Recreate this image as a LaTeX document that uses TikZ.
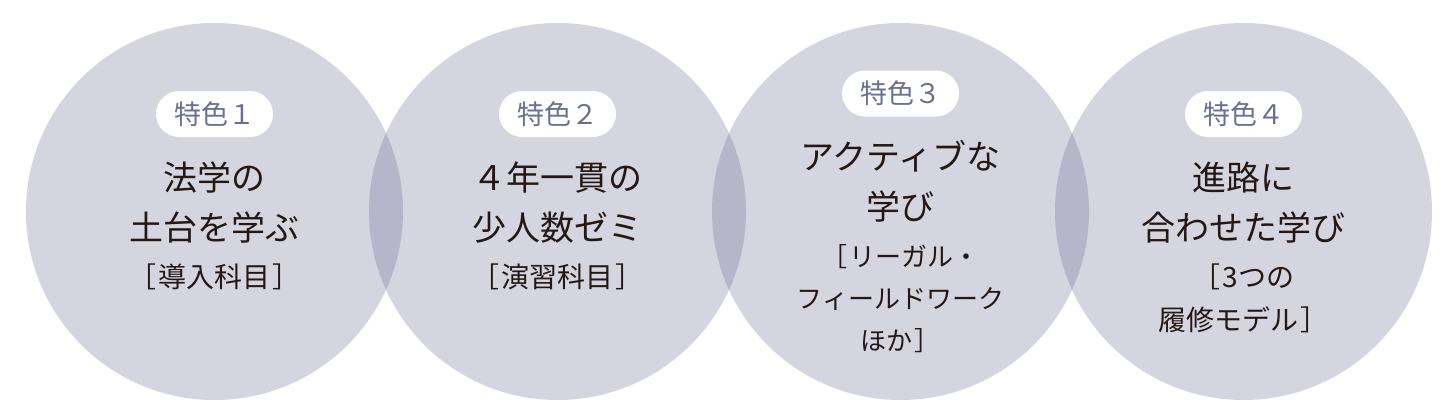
\documentclass[tikz,border=0pt]{standalone}
\usepackage{fontspec}
\newfontfamily\jpfont{Noto Sans CJK JP}
\definecolor{Disc}{HTML}{D5D5E0}
\definecolor{DiscDeep}{HTML}{B5B6C9}
\definecolor{TagText}{HTML}{6A7092}
\definecolor{Ink}{HTML}{231815}
\newcommand\openbr{［\kern2pt}
\newcommand\closebr{\kern2pt］}

\begin{document}
\begin{tikzpicture}[x=1pt,y=-1pt,font=\jpfont,text=Ink,
disc/.style={circle,fill=Disc,minimum size=377pt,inner sep=0pt},
tag/.style={rounded corners=23pt,fill=white,minimum width=117pt,minimum height=46pt,inner sep=0pt,text=TagText,font=\jpfont\fontsize{27}{27}\selectfont},
headline/.style={align=center,inner sep=0pt,font=\jpfont\fontsize{34}{50}\selectfont},
subline/.style={align=center,inner sep=0pt,font=\jpfont\fontsize{28}{43}\selectfont}]
\useasboundingbox[fill=white] (0,0) rectangle (1452,418);
\foreach \i/\x in {1/214.5,2/557.5,3/900.5,4/1243.5}{
\node[disc] (c\i) at (\x,211.5){};
}
% darker lens where two discs meet
\foreach \i/\j in {1/2,2/3,3/4}{
\begin{scope}
\clip (c\i.center) circle[radius=188.5];
\fill[DiscDeep] (c\j.center) circle[radius=188.5];
\end{scope}
}
\node[tag] (b1) at (214.5,114){特色１};
\node[tag] (b2) at (557.5,114){特色２};
\node[tag] (b3) at (900.5,93.5){特色３};
\node[tag] (b4) at (1243.5,114){特色４};
\node[headline] (h1) at (214.5,203){法学の\\土台を学ぶ};
\node[subline] (s1) at (214.5,277){\openbr 導入科目\closebr};
\node[headline] (h2) at (557.5,203){４年一貫の\\少人数ゼミ};
\node[subline] (s2) at (557.5,277){\openbr 演習科目\closebr};
\node[headline] (h3) at (900.5,181.5){アクティブな\\学び};
\node[subline,font=\jpfont\fontsize{26}{42}\selectfont] (s3) at (900.5,298.5){\openbr リーガル・\\フィールドワーク\\ほか\closebr};
\node[headline] (h4) at (1243.5,203){進路に\\合わせた学び};
\node[subline] (s4) at (1243.5,298){\openbr 3つの\\履修モデル\closebr};
\end{tikzpicture}
\end{document}
